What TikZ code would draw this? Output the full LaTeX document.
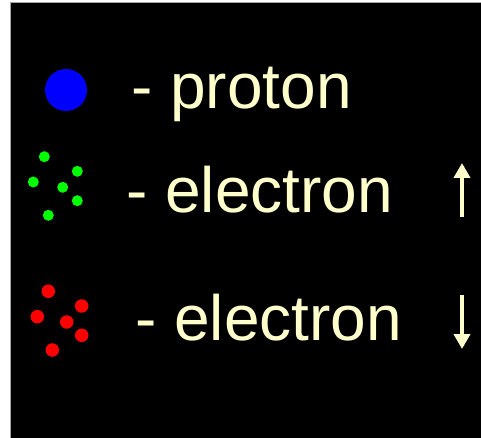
\documentclass[tikz,border=0pt]{standalone}
\usepackage{fontspec}
\setmainfont{Liberation Sans}
\usetikzlibrary{arrows.meta}
\definecolor{cream}{HTML}{FFFFCC}
\definecolor{pgreen}{HTML}{00FF00}
\definecolor{pred}{HTML}{FF0000}
\definecolor{pblue}{HTML}{0000FF}
\tikzset{
  legendtext/.style={anchor=base west, inner sep=0pt, text=cream,
    font=\fontsize{64}{64}\selectfont},
  greendot/.style={circle, fill=pgreen, inner sep=0pt, minimum size=11pt},
  reddot/.style={circle, fill=pred, inner sep=0pt, minimum size=13.5pt},
  spinarrow/.style={draw=cream, line width=4pt,
    -{Triangle[width=16pt,length=15pt]}}
}
\begin{document}
\begin{tikzpicture}[x=1pt,y=-1pt]
  % canvas and black panel
  \useasboundingbox (0,0) rectangle (481,438);
  \fill[white] (0,0) rectangle (481,438);
  \fill[black] (10,2) rectangle (481,438);
  \draw[gray!70, line width=0.8pt] (10,438) -- (10,2) -- (481,2);

  % proton
  \node[circle, fill=pblue, inner sep=0pt, minimum size=42pt] (proton) at (66,90) {};
  \node[legendtext] (ltxt1) at (131,109) {- proton};

  % spin-up electrons
  \node[greendot] (g1) at (44.3,156.7) {};
  \node[greendot] (g2) at (77.3,171.3) {};
  \node[greendot] (g3) at (33.3,182) {};
  \node[greendot] (g4) at (62.7,187.3) {};
  \node[greendot] (g5) at (77.3,200.7) {};
  \node[greendot] (g6) at (48.3,215.3) {};
  \node[legendtext] (ltxt2) at (126,212) {- electron};

  % spin-down electrons
  \node[reddot] (r1) at (48.3,291.3) {};
  \node[reddot] (r2) at (81.7,306) {};
  \node[reddot] (r3) at (37.3,316.7) {};
  \node[reddot] (r4) at (66.7,322) {};
  \node[reddot] (r5) at (81.7,335.3) {};
  \node[reddot] (r6) at (52.3,350) {};
  \node[legendtext] (ltxt3) at (135,340) {- electron};

  % spin arrows
  \coordinate (upS) at (462,217);
  \coordinate (upE) at (462,163);
  \coordinate (dnS) at (462,295);
  \coordinate (dnE) at (462,349);
  \draw[spinarrow] (upS) -- (upE);
  \draw[spinarrow] (dnS) -- (dnE);
\end{tikzpicture}
\end{document}
